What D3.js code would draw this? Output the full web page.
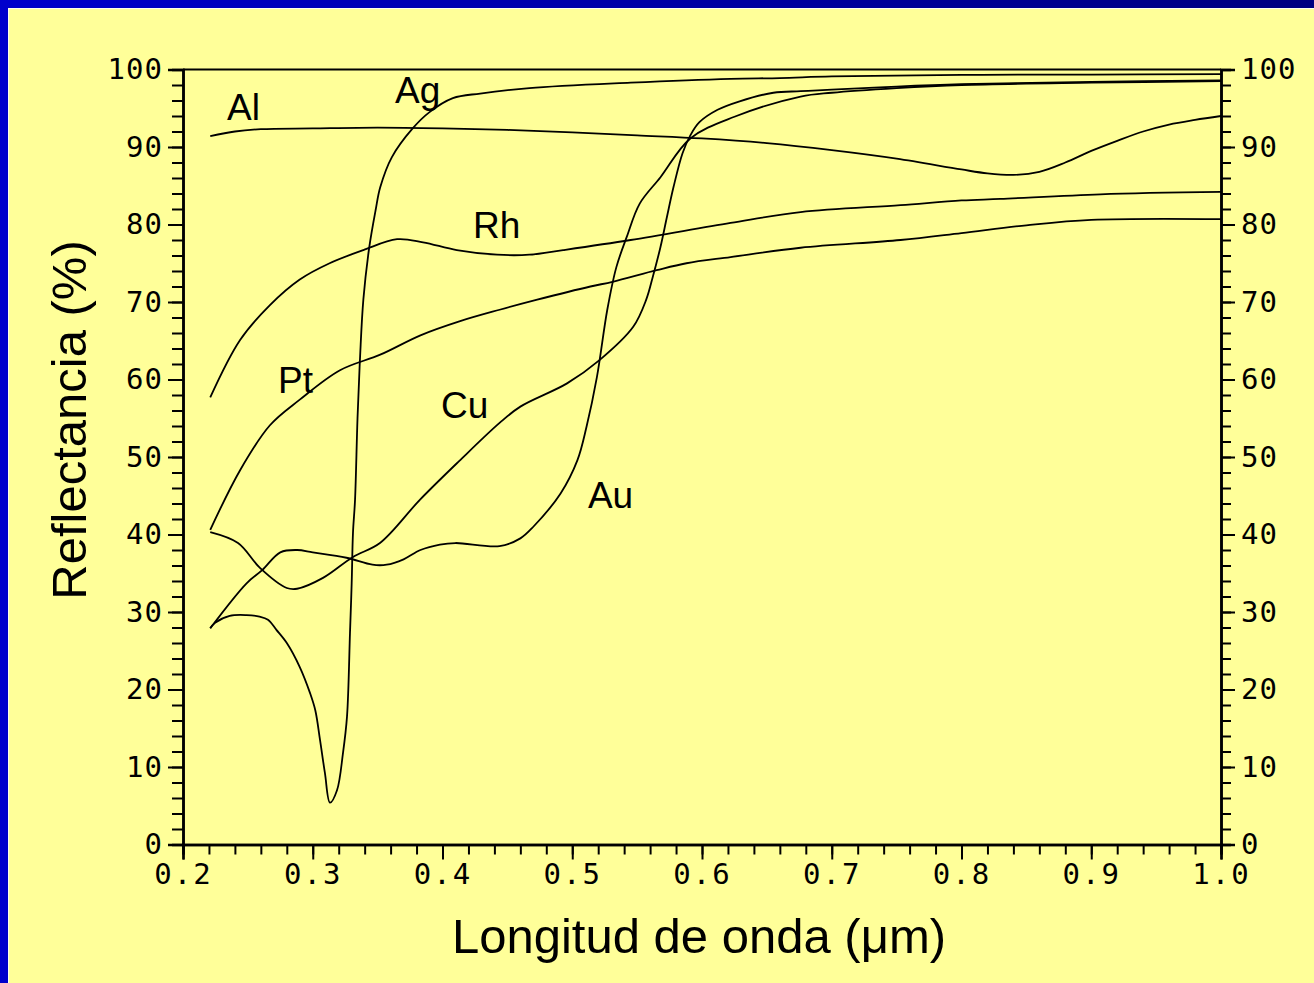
<!DOCTYPE html>
<html lang="es">
<head>
  <meta charset="utf-8">
  <title>Reflectancia de metales</title>
  <script src="https://cdnjs.cloudflare.com/ajax/libs/d3/7.8.5/d3.min.js"></script>
  <style>
    body { margin: 0; background: #ffff99; }
    .curve { fill: none; stroke: #000; stroke-width: 1.8px; stroke-linejoin: round; }
    .axis path { stroke: #000; stroke-width: 2.5px; }
    .axis line { stroke: #000; stroke-width: 2px; }
    .axis text { font-family: "DejaVu Sans Mono", monospace; font-size: 29px; fill: #000; letter-spacing: 1px; }
    .metal { font-family: "Liberation Sans", Arial, sans-serif; font-size: 37px; fill: #000; }
    .title { font-family: "Liberation Sans", Arial, sans-serif; font-size: 49px; fill: #000; }
  </style>
</head>
<body>
<svg width="1314" height="983"></svg>
<script>

// wavelength (um) and reflectance (%)
var alX = [0.221, 0.24, 0.26, 0.30, 0.35, 0.40, 0.45, 0.50, 0.55, 0.60, 0.65, 0.70, 0.75, 0.80, 0.82, 0.84, 0.86, 0.88, 0.90, 0.92, 0.94, 0.96, 0.98, 1.00];
var alY = [91.4, 92.0, 92.3, 92.4, 92.5, 92.4, 92.2, 91.9, 91.5, 91.1, 90.5, 89.6, 88.5, 87.1, 86.6, 86.4, 86.8, 88.0, 89.5, 90.8, 92.0, 92.9, 93.5, 94.0];

var agX = [0.221, 0.2247, 0.236, 0.249, 0.259, 0.2655, 0.272, 0.280, 0.290, 0.298, 0.302, 0.3056, 0.3094, 0.3133, 0.3187, 0.3233, 0.3264, 0.3287, 0.330, 0.331, 0.3326, 0.3345, 0.3365, 0.339, 0.3435, 0.3485, 0.352, 0.361, 0.377, 0.390, 0.408, 0.429, 0.467, 0.545, 0.622, 0.66, 0.70, 0.80, 0.90, 1.00];
var agY = [27.9, 28.6, 29.5, 29.6, 29.4, 29.0, 27.7, 26.0, 22.9, 19.5, 17.3, 13.5, 9.2, 5.4, 7.0, 11.8, 16.5, 27.3, 33.7, 40.2, 44.5, 55.0, 63.0, 70.3, 77.0, 81.9, 84.8, 88.7, 92.4, 94.5, 96.3, 96.9, 97.6, 98.3, 98.8, 98.9, 99.1, 99.3, 99.35, 99.4];

var rhX = [0.221, 0.244, 0.267, 0.29, 0.313, 0.339, 0.365, 0.385, 0.411, 0.442, 0.467, 0.493, 0.545, 0.622, 0.676, 0.753, 0.80, 0.83, 0.907, 1.00];
var rhY = [57.7, 65.1, 69.6, 72.9, 75.0, 76.7, 78.1, 77.7, 76.7, 76.1, 76.1, 76.7, 78.0, 80.2, 81.6, 82.5, 83.1, 83.3, 83.9, 84.2];

var ptX = [0.221, 0.244, 0.267, 0.29, 0.321, 0.352, 0.383, 0.413, 0.444, 0.473, 0.514, 0.531, 0.565, 0.588, 0.622, 0.676, 0.753, 0.80, 0.85, 0.90, 1.00];
var ptY = [40.6, 48.3, 54.1, 57.4, 61.2, 63.2, 65.7, 67.5, 69.0, 70.3, 72.0, 72.6, 74.1, 75.0, 75.8, 77.0, 78.0, 78.9, 79.9, 80.6, 80.7];

var cuX = [0.221, 0.2424, 0.2593, 0.280, 0.2879, 0.3079, 0.331, 0.3518, 0.3827, 0.413, 0.444, 0.46, 0.496, 0.521, 0.547, 0.557, 0.562, 0.568, 0.573, 0.578, 0.585, 0.591, 0.598, 0.612, 0.629, 0.655, 0.676, 0.70, 0.75, 0.80, 0.90, 1.00];
var cuY = [40.3, 38.9, 35.7, 33.1, 33.0, 34.4, 37.1, 38.9, 44.5, 49.5, 54.4, 56.5, 59.5, 62.5, 66.8, 70.3, 73.2, 77.1, 81.0, 84.8, 89.2, 91.5, 93.2, 94.8, 95.9, 97.0, 97.2, 97.4, 97.8, 98.1, 98.4, 98.6];

var auX = [0.221, 0.249, 0.261, 0.275, 0.288, 0.300, 0.326, 0.346, 0.357, 0.37, 0.383, 0.398, 0.41, 0.444, 0.46, 0.470, 0.491, 0.504, 0.511, 0.519, 0.527, 0.534, 0.542, 0.552, 0.568, 0.591, 0.625, 0.676, 0.70, 0.75, 0.80, 0.90, 1.00];
var auY = [27.9, 33.7, 35.4, 37.7, 38.0, 37.7, 37.0, 36.1, 36.1, 36.8, 38.0, 38.7, 38.9, 38.5, 39.5, 41.0, 45.3, 49.6, 53.9, 60.3, 69.0, 74.5, 78.4, 82.7, 86.1, 91.1, 93.9, 96.5, 97.0, 97.6, 98.0, 98.3, 98.5];

var metals = ["Al", "Ag", "Rh", "Pt", "Cu", "Au"];
// label anchor (left, baseline) in data units
var labelX = [0.234, 0.3634, 0.4235, 0.2732, 0.3988, 0.5121];
var labelY = [93.5, 95.7, 78.3, 58.3, 55.0, 43.4];

var xTicks = [0.2, 0.3, 0.4, 0.5, 0.6, 0.7, 0.8, 0.9, 1.0];
var yTicks = [0, 10, 20, 30, 40, 50, 60, 70, 80, 90, 100];

var svg = d3.select("svg"),
    W = 1314, H = 983;

// slide frame
var defs = svg.append("defs");
var grad = defs.append("linearGradient").attr("id", "topbar");
grad.append("stop").attr("offset", "0%").attr("stop-color", "#0000cc");
grad.append("stop").attr("offset", "100%").attr("stop-color", "#000080");

svg.append("rect").attr("width", W).attr("height", H).attr("fill", "#ffff99");
svg.append("rect").attr("x", 0).attr("y", 0).attr("width", W).attr("height", 8).attr("fill", "url(#topbar)");
svg.append("rect").attr("x", 0).attr("y", 0).attr("width", 8).attr("height", H).attr("fill", "#0000cc");
svg.append("rect").attr("x", 8).attr("y", 8).attr("width", W - 8).attr("height", 1).attr("fill", "#ffffee");
svg.append("rect").attr("x", 8).attr("y", 8).attr("width", 1).attr("height", H - 8).attr("fill", "#ffffee");

var x = d3.scaleLinear().domain([0.2, 1.0]).range([183, 1221]),
    y = d3.scaleLinear().domain([0, 100]).range([844.5, 69.5]);

var fmtX = d3.format(".1f");

// minor ticks
svg.append("g").attr("class", "axis").attr("transform", "translate(183,0)")
    .call(d3.axisLeft(y).tickValues(d3.range(0, 101, 2)).tickSize(11).tickFormat(""));
svg.append("g").attr("class", "axis").attr("transform", "translate(1221,0)")
    .call(d3.axisRight(y).tickValues(d3.range(0, 101, 2)).tickSize(10).tickFormat(""));
svg.append("g").attr("class", "axis").attr("transform", "translate(0,844.5)")
    .call(d3.axisBottom(x).tickValues(d3.range(0, 41).map(function(i) { return 0.2 + i * 0.02; })).tickSize(10).tickFormat(""));

// major ticks with labels
svg.append("g").attr("class", "axis").attr("transform", "translate(183,0)")
    .call(d3.axisLeft(y).tickValues(yTicks).tickSize(15).tickPadding(5));
svg.append("g").attr("class", "axis").attr("transform", "translate(1221,0)")
    .call(d3.axisRight(y).tickValues(yTicks).tickSize(14).tickPadding(6));
svg.append("g").attr("class", "axis").attr("transform", "translate(0,844.5)")
    .call(d3.axisBottom(x).tickValues(xTicks).tickSize(15).tickPadding(4).tickFormat(fmtX))
  .selectAll("text").style("letter-spacing", "2px");

// top frame line
svg.append("line").attr("x1", x(0.2)).attr("x2", x(1.0)).attr("y1", y(100)).attr("y2", y(100))
    .attr("stroke", "#000").attr("stroke-width", 2);

var line = d3.line()
    .curve(d3.curveCatmullRom.alpha(0.5))
    .x(function(d) { return x(d[0]); })
    .y(function(d) { return y(d[1]); });

var series = [[alX, alY], [agX, agY], [rhX, rhY], [ptX, ptY], [cuX, cuY], [auX, auY]];

svg.append("g").selectAll("path")
    .data(series)
  .enter().append("path")
    .attr("class", "curve")
    .attr("d", function(s) { return line(d3.zip(s[0], s[1])); });

svg.append("g").selectAll("text")
    .data(metals)
  .enter().append("text")
    .attr("class", "metal")
    .attr("x", function(d, i) { return x(labelX[i]); })
    .attr("y", function(d, i) { return y(labelY[i]); })
    .text(function(d) { return d; });

svg.append("text")
    .attr("class", "title")
    .attr("text-anchor", "middle")
    .attr("x", 699).attr("y", 953)
    .text("Longitud de onda (\u03bcm)");

svg.append("text")
    .attr("class", "title")
    .attr("text-anchor", "middle")
    .attr("transform", "translate(86,420) rotate(-90)")
    .text("Reflectancia (%)");

</script>
</body>
</html>
